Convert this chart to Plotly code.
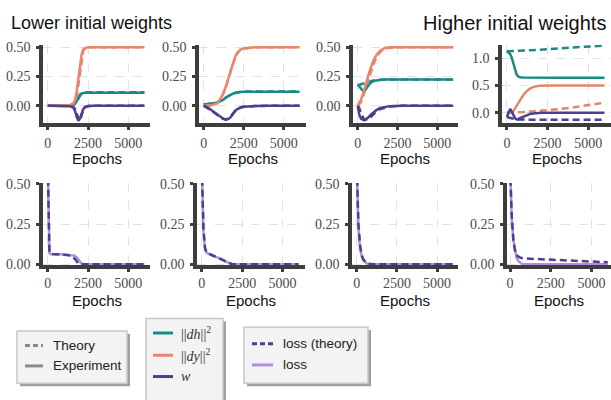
import plotly.graph_objects as go

# ---------------- data ----------------
epochs = [0, 100, 200, 300, 400, 500, 600, 700, 800, 1000, 1200, 1400, 1600, 1700,
          1800, 1900, 2000, 2100, 2200, 2300, 2500, 2800, 3200, 4000, 5000, 6000]

# Panel A (lower initial weights, first)
dh_exp_A = [0, 0, 0, 0, 0, 0, 0, 0, 0, 0, 0.001, 0.003, 0.01, 0.02, 0.04, 0.07, 0.095, 0.105, 0.11, 0.11, 0.11, 0.11, 0.11, 0.11, 0.11, 0.11]
dh_th_A = [0, 0, 0, 0, 0, 0, 0, 0, 0, 0, 0.001, 0.002, 0.007, 0.015, 0.03, 0.06, 0.09, 0.105, 0.112, 0.115, 0.115, 0.115, 0.115, 0.115, 0.115, 0.115]
dy_exp_A = [0, 0, 0, 0, 0, 0, 0, 0, 0, 0, 0.002, 0.006, 0.02, 0.05, 0.13, 0.25, 0.37, 0.44, 0.48, 0.49, 0.5, 0.5, 0.5, 0.5, 0.5, 0.5]
dy_th_A = [0, 0, 0, 0, 0, 0, 0, 0, 0, 0, 0.001, 0.004, 0.012, 0.03, 0.08, 0.18, 0.30, 0.41, 0.47, 0.49, 0.5, 0.5, 0.5, 0.5, 0.5, 0.5]
w_exp_A = [0, 0, 0, 0, 0, 0, 0, 0, 0, 0, 0, -0.005, -0.02, -0.05, -0.1, -0.13, -0.11, -0.06, -0.03, -0.015, -0.005, 0, 0, 0, 0, 0]
w_th_A = [0, 0, 0, 0, 0, 0, 0, 0, 0, 0, 0, -0.003, -0.012, -0.03, -0.07, -0.11, -0.13, -0.08, -0.035, -0.012, -0.003, 0, 0, 0, 0, 0]
loss_exp_A = [0.6, 0.07, 0.062, 0.061, 0.061, 0.061, 0.061, 0.061, 0.061, 0.06, 0.059, 0.058, 0.054, 0.05, 0.042, 0.03, 0.015, 0.004, 0, 0, 0, 0, 0, 0, 0, 0]
loss_th_A = [0.6, 0.075, 0.063, 0.061, 0.061, 0.061, 0.061, 0.061, 0.06, 0.059, 0.057, 0.053, 0.042, 0.03, 0.015, 0.004, 0, 0, 0, 0, 0, 0, 0, 0, 0, 0]

# Panel B
dh_exp_B = [0.01, 0.011, 0.012, 0.013, 0.015, 0.017, 0.019, 0.022, 0.025, 0.035, 0.05, 0.07, 0.088, 0.095, 0.101, 0.106, 0.11, 0.113, 0.115, 0.117, 0.119, 0.12, 0.12, 0.12, 0.12, 0.12]
dh_th_B = [0.01, 0.011, 0.012, 0.013, 0.015, 0.017, 0.019, 0.022, 0.026, 0.037, 0.053, 0.072, 0.09, 0.097, 0.103, 0.108, 0.112, 0.115, 0.117, 0.119, 0.121, 0.122, 0.122, 0.122, 0.122, 0.122]
dy_exp_B = [0, 0, 0.001, 0.002, 0.004, 0.006, 0.009, 0.013, 0.02, 0.05, 0.10, 0.17, 0.25, 0.30, 0.35, 0.39, 0.43, 0.45, 0.47, 0.48, 0.49, 0.497, 0.5, 0.5, 0.5, 0.5]
dy_th_B = [0, 0, 0.001, 0.002, 0.003, 0.005, 0.008, 0.012, 0.018, 0.045, 0.095, 0.165, 0.245, 0.295, 0.345, 0.385, 0.425, 0.45, 0.467, 0.48, 0.49, 0.497, 0.5, 0.5, 0.5, 0.5]
w_exp_B = [0, -0.005, -0.012, -0.02, -0.03, -0.04, -0.05, -0.06, -0.07, -0.09, -0.11, -0.12, -0.11, -0.095, -0.075, -0.055, -0.04, -0.03, -0.022, -0.017, -0.01, -0.006, -0.003, -0.001, 0, 0]
w_th_B = [0, -0.008, -0.016, -0.025, -0.035, -0.045, -0.055, -0.065, -0.075, -0.095, -0.113, -0.12, -0.105, -0.09, -0.07, -0.052, -0.038, -0.028, -0.021, -0.016, -0.01, -0.006, -0.003, -0.001, 0, 0]
loss_exp_B = [0.6, 0.2, 0.09, 0.07, 0.065, 0.061, 0.058, 0.054, 0.05, 0.041, 0.031, 0.02, 0.009, 0.005, 0.002, 0, 0, 0, 0, 0, 0, 0, 0, 0, 0, 0]
loss_th_B = [0.6, 0.22, 0.1, 0.072, 0.066, 0.062, 0.058, 0.054, 0.05, 0.042, 0.033, 0.022, 0.011, 0.006, 0.002, 0, 0, 0, 0, 0, 0, 0, 0, 0, 0, 0]

# Panel C
dh_exp_C = [0.18, 0.16, 0.14, 0.13, 0.13, 0.14, 0.16, 0.18, 0.195, 0.21, 0.218, 0.222, 0.224, 0.225, 0.225, 0.225, 0.225, 0.225, 0.225, 0.225, 0.225, 0.225, 0.225, 0.225, 0.225, 0.225]
dh_th_C = [0.175, 0.178, 0.18, 0.185, 0.19, 0.195, 0.2, 0.205, 0.21, 0.215, 0.22, 0.222, 0.224, 0.225, 0.225, 0.225, 0.225, 0.225, 0.225, 0.225, 0.225, 0.225, 0.225, 0.225, 0.225, 0.225]
dy_exp_C = [0, 0.025, 0.05, 0.09, 0.13, 0.18, 0.23, 0.28, 0.32, 0.39, 0.44, 0.47, 0.49, 0.494, 0.497, 0.499, 0.5, 0.5, 0.5, 0.5, 0.5, 0.5, 0.5, 0.5, 0.5, 0.5]
dy_th_C = [0, 0.015, 0.03, 0.065, 0.1, 0.145, 0.19, 0.235, 0.28, 0.36, 0.42, 0.46, 0.48, 0.486, 0.49, 0.493, 0.495, 0.497, 0.498, 0.499, 0.5, 0.5, 0.5, 0.5, 0.5, 0.5]
w_exp_C = [0, -0.08, -0.11, -0.12, -0.125, -0.12, -0.11, -0.095, -0.08, -0.055, -0.035, -0.02, -0.012, -0.01, -0.008, -0.006, -0.005, -0.004, -0.003, -0.002, -0.001, 0, 0, 0, 0, 0]
w_th_C = [0, -0.02, -0.07, -0.1, -0.115, -0.12, -0.118, -0.11, -0.1, -0.07, -0.045, -0.03, -0.02, -0.016, -0.013, -0.01, -0.008, -0.006, -0.005, -0.004, -0.002, -0.001, 0, 0, 0, 0]
loss_exp_C = [0.6, 0.22, 0.1, 0.05, 0.025, 0.012, 0.005, 0.001, 0, 0, 0, 0, 0, 0, 0, 0, 0, 0, 0, 0, 0, 0, 0, 0, 0, 0]
loss_th_C = [0.6, 0.25, 0.12, 0.06, 0.03, 0.015, 0.007, 0.003, 0.001, 0, 0, 0, 0, 0, 0, 0, 0, 0, 0, 0, 0, 0, 0, 0, 0, 0]

# Panel D (higher initial weights)
dh_exp_D = [1.13, 1.11, 1.08, 1.01, 0.9, 0.78, 0.7, 0.665, 0.652, 0.646, 0.645, 0.645, 0.645, 0.645, 0.645, 0.645, 0.645, 0.645, 0.645, 0.645, 0.645, 0.645, 0.645, 0.645, 0.645, 0.645]
dh_th_D = [1.13, 1.13, 1.131, 1.132, 1.133, 1.134, 1.135, 1.136, 1.137, 1.14, 1.143, 1.146, 1.15, 1.151, 1.153, 1.155, 1.157, 1.158, 1.16, 1.162, 1.165, 1.17, 1.177, 1.19, 1.212, 1.235]
dy_exp_D = [0, 0, 0, 0.0, 0.03, 0.08, 0.13, 0.19, 0.24, 0.32, 0.39, 0.44, 0.47, 0.48, 0.488, 0.492, 0.495, 0.497, 0.498, 0.499, 0.5, 0.5, 0.5, 0.5, 0.5, 0.5]
dy_th_D = [0, 0, 0, 0, 0, 0.002, 0.004, 0.006, 0.008, 0.012, 0.016, 0.02, 0.025, 0.027, 0.03, 0.032, 0.035, 0.037, 0.04, 0.042, 0.048, 0.056, 0.068, 0.095, 0.135, 0.185]
w_exp_D = [-0.08, 0.0, 0.07, 0.02, -0.05, -0.1, -0.125, -0.12, -0.1, -0.07, -0.045, -0.025, -0.015, -0.01, -0.007, -0.005, -0.003, -0.002, -0.001, 0, 0, 0, 0, 0, 0, 0]
w_th_D = [-0.08, -0.09, -0.1, -0.11, -0.115, -0.12, -0.122, -0.124, -0.125, -0.126, -0.127, -0.127, -0.128, -0.128, -0.128, -0.128, -0.128, -0.129, -0.129, -0.129, -0.129, -0.13, -0.13, -0.13, -0.13, -0.13]
loss_exp_D = [0.6, 0.3, 0.15, 0.08, 0.04, 0.02, 0.008, 0.003, 0.001, 0, 0, 0, 0, 0, 0, 0, 0, 0, 0, 0, 0, 0, 0, 0, 0, 0]
loss_th_D = [0.6, 0.3, 0.15, 0.085, 0.055, 0.045, 0.041, 0.039, 0.037, 0.035, 0.034, 0.033, 0.032, 0.0315, 0.031, 0.0305, 0.03, 0.0295, 0.029, 0.0285, 0.027, 0.025, 0.023, 0.019, 0.015, 0.012]

x_ticks = [0, 2500, 5000]
y_ticks_small = [0, 0.25, 0.5]
y_ticks_large = [0, 0.5, 1.0]
titles = ["Lower initial weights", "Higher initial weights"]
legend1_labels = ["Theory", "Experiment"]
legend2_labels = ["||<i>dh</i>||<sup>2</sup>", "||<i>dy</i>||<sup>2</sup>", "<i>w</i>"]
legend3_labels = ["loss (theory)", "loss"]

# ---------------- styling ----------------
TEAL = "#1a8a85"
SALMON = "#e6866a"
PURPLE = "#4d3f8d"
LILAC = "#b48de0"
GRAY = "#8a8a8a"
AXC = "#3d3d3d"
DASH = "7px,4px"
LW = 2.5
W, H = 611, 400
SANS = "Liberation Sans, Arial, sans-serif"
SERIF = "Liberation Serif, DejaVu Serif, serif"

def px_x(a, b):
    return [a / W, b / W]

def px_y(top, bottom):
    return [1 - bottom / H, 1 - top / H]

top_dom_x = [px_x(43, 150), px_x(199, 306), px_x(353, 458), px_x(502, 611)]
bot_dom_x = [px_x(43, 150), px_x(197, 305), px_x(352, 458), px_x(507, 611)]
top_dom_y = px_y(40, 121)
bot_dom_y = px_y(183, 268)
top_xr = [[-300, 6350], [-300, 6400], [-300, 6300], [-300, 6400]]
bot_xr = [[-300, 6350], [-300, 6400], [-300, 6300], [-190, 6200]]

top_sets = [
    (dh_exp_A, dh_th_A, dy_exp_A, dy_th_A, w_exp_A, w_th_A),
    (dh_exp_B, dh_th_B, dy_exp_B, dy_th_B, w_exp_B, w_th_B),
    (dh_exp_C, dh_th_C, dy_exp_C, dy_th_C, w_exp_C, w_th_C),
    (dh_exp_D, dh_th_D, dy_exp_D, dy_th_D, w_exp_D, w_th_D),
]
bot_sets = [(loss_exp_A, loss_th_A), (loss_exp_B, loss_th_B),
            (loss_exp_C, loss_th_C), (loss_exp_D, loss_th_D)]

fig = go.Figure()

def line(x, y, color, dash, xa, ya, name):
    fig.add_trace(go.Scatter(x=x, y=y, mode="lines", xaxis=xa, yaxis=ya, name=name,
                             line=dict(color=color, width=LW, dash=dash),
                             showlegend=False, hoverinfo="skip"))

for i, (dhe, dht, dye, dyt, we, wt) in enumerate(top_sets):
    xa, ya = f"x{i+1}", f"y{i+1}"
    line(epochs, dht, TEAL, DASH, xa, ya, "||dh||² (theory)")
    line(epochs, dyt, SALMON, DASH, xa, ya, "||dy||² (theory)")
    line(epochs, wt, PURPLE, DASH, xa, ya, "w (theory)")
    line(epochs, dhe, TEAL, "solid", xa, ya, "||dh||²")
    line(epochs, dye, SALMON, "solid", xa, ya, "||dy||²")
    line(epochs, we, PURPLE, "solid", xa, ya, "w")

for i, (le, lt) in enumerate(bot_sets):
    xa, ya = f"x{i+5}", f"y{i+5}"
    line(epochs, le, LILAC, "solid", xa, ya, "loss")
    line(epochs, lt, PURPLE, DASH, xa, ya, "loss (theory)")

tickfont = dict(family=SERIF, size=14, color="#4a4a4a")
common_axis = dict(showline=True, linecolor=AXC, linewidth=3.5, ticks="outside",
                   ticklen=3, tickwidth=3, tickcolor=AXC, showgrid=True,
                   gridcolor="#e2e2e2", griddash="dash", gridwidth=1,
                   zeroline=False, tickfont=tickfont, fixedrange=True)

layout = dict(width=W, height=H, margin=dict(l=0, r=0, t=0, b=0),
              paper_bgcolor="white", plot_bgcolor="white", showlegend=False)

for i in range(8):
    n = i + 1
    top = i < 4
    k = i % 4
    xd = top_dom_x[k] if top else bot_dom_x[k]
    yd = top_dom_y if top else bot_dom_y
    xr = top_xr[k] if top else bot_xr[k]
    if top and k == 3:
        yr, yt, yf = [-0.19, 1.25], y_ticks_large, ".1f"
    elif top:
        yr, yt, yf = [-0.149, 0.522], y_ticks_small, ".2f"
    else:
        yr, yt, yf = [-0.007, 0.505], y_ticks_small, ".2f"
    layout[f"xaxis{n}"] = dict(domain=xd, range=xr, tickvals=x_ticks, anchor=f"y{n}",
                               ticklabelstandoff=1 if top else -1, **common_axis)
    layout[f"yaxis{n}"] = dict(domain=yd, range=yr, tickvals=yt, tickformat=yf,
                               anchor=f"x{n}", ticklabelstandoff=3, **common_axis)

annotations = []
for k in range(4):
    for dom, yc in ((top_dom_x[k], 158), (bot_dom_x[k], 304.5)):
        annotations.append(dict(text="Epochs", x=(dom[0] + dom[1]) / 2, y=1 - yc / H,
                                xref="paper", yref="paper", showarrow=False,
                                xanchor="center", yanchor="middle",
                                font=dict(family=SANS, size=15, color="#111")))
annotations.append(dict(text=titles[0], x=9 / W, y=1 - 17.5 / H, xref="paper", yref="paper",
                        showarrow=False, xanchor="left", yanchor="middle",
                        font=dict(family=SANS, size=18, color="#111")))
annotations.append(dict(text=titles[1], x=608 / W, y=1 - 17.5 / H, xref="paper", yref="paper",
                        showarrow=False, xanchor="right", yanchor="middle",
                        font=dict(family=SANS, size=20, color="#111")))

# ---------------- legends (boxes with shadow, line samples, labels) ----------------
shapes = []

def legend_box(x0, y0, x1, y1):
    shapes.append(dict(type="rect", xref="paper", yref="paper",
                       x0=(x0 + 3) / W, x1=(x1 + 3) / W, y0=1 - (y1 + 3) / H, y1=1 - (y0 + 3) / H,
                       fillcolor="#a0a0a0", line=dict(width=0), layer="above"))
    shapes.append(dict(type="rect", xref="paper", yref="paper",
                       x0=x0 / W, x1=x1 / W, y0=1 - y1 / H, y1=1 - y0 / H,
                       fillcolor="#f3f3f3", line=dict(color="#c8c8c8", width=1.5), layer="above"))

def legend_item(xs, xe, y, color, dash, label, tx, font):
    shapes.append(dict(type="line", xref="paper", yref="paper",
                       x0=xs / W, x1=xe / W, y0=1 - y / H, y1=1 - y / H,
                       line=dict(color=color, width=3, dash=dash), layer="above"))
    annotations.append(dict(text=label, x=tx / W, y=1 - y / H, xref="paper", yref="paper",
                            showarrow=False, xanchor="left", yanchor="middle", font=font))

legend_box(17, 336, 127, 390)
f1 = dict(family=SANS, size=13.5, color="#222")
legend_item(25, 43, 351, GRAY, "5px,3px", legend1_labels[0], 51, f1)
legend_item(25, 43, 372, GRAY, "solid", legend1_labels[1], 51, f1)

legend_box(146, 323, 223, 410)
f2 = dict(family=SERIF, size=14, color="#333")
legend_item(153, 173, 338, TEAL, "solid", legend2_labels[0], 179, f2)
legend_item(153, 173, 361, SALMON, "solid", legend2_labels[1], 179, f2)
legend_item(153, 173, 383, PURPLE, "solid", legend2_labels[2], 179, f2)

legend_box(244, 332, 368, 390)
f3 = dict(family=SANS, size=13.5, color="#222")
legend_item(252, 273, 349, PURPLE, "5px,3px", legend3_labels[0], 281, f3)
legend_item(252, 273, 371, LILAC, "solid", legend3_labels[1], 281, f3)

layout["annotations"] = annotations
layout["shapes"] = shapes

fig.update_layout(**layout)
fig.write_html("out.html")
